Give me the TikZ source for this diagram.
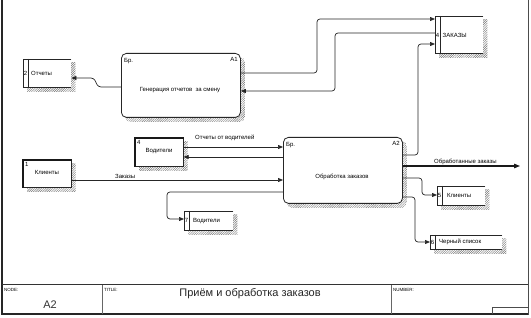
\documentclass[tikz,border=0pt]{standalone}
\usepackage{fontspec}
\setmainfont{Liberation Sans}
\usetikzlibrary{arrows.meta,patterns.meta,calc,backgrounds}
\begin{document}
\begin{tikzpicture}[x=1pt,y=-1pt,
  ln/.style={line width=0.7pt, draw=black!85},
  arr/.style={ln, rounded corners=3pt, -{Triangle[length=5pt,width=4pt]}},
  thickarr/.style={line width=1.2pt, draw=black!90, -{Triangle[length=6pt,width=4.5pt]}},
  proc/.style={draw=black!85, line width=0.8pt, rounded corners=5pt, fill=white, inner sep=0pt, anchor=north west},
  storebox/.style={fill=white, inner sep=0pt, anchor=north west},
  entbox/.style={draw=black!85, line width=0.6pt, fill=white, inner sep=0pt, anchor=north west},
  tx/.style={font=\fontsize{6}{7}\selectfont, inner sep=0pt},
  ltx/.style={tx, anchor=west},
  hd/.style={font=\fontsize{4.5}{5}\selectfont, inner sep=0pt, anchor=north west},
  shd/.style={pattern={Lines[angle=45,distance=1.6pt,line width=0.45pt]}, pattern color=black!55},
]
\useasboundingbox (0,0) rectangle (531,318);

% ---------- boxes ----------
\node[proc, minimum width=119pt, minimum height=64pt] (gen) at (121,53) {};
\node[proc, minimum width=119pt, minimum height=66pt] (obr) at (283,137) {};

\node[storebox, minimum width=48pt, minimum height=28pt] (ots) at (23,59) {};
\node[storebox, minimum width=48pt, minimum height=37pt] (zak) at (435,16) {};
\node[storebox, minimum width=49pt, minimum height=19pt] (vod7) at (184,211) {};
\node[storebox, minimum width=48pt, minimum height=19pt] (kli5) at (437,186) {};
\node[storebox, minimum width=72pt, minimum height=14pt] (chs) at (430,235) {};

\node[entbox, minimum width=48pt, minimum height=28pt] (vod4) at (135,138) {};
\node[entbox, minimum width=48pt, minimum height=27pt] (kli1) at (23,160) {};

% background and shadows
\begin{scope}[on background layer]
  \fill[white] (0,0) rectangle (531,318);
  \foreach \n in {gen,obr}
    \fill[shd, rounded corners=5pt] ($(\n.south west)+(4pt,-4pt)$) rectangle ($(\n.north east)+(4pt,-4pt)$);
  \foreach \n in {ots,zak,vod7,kli5,chs,vod4,kli1}
    \fill[shd] ($(\n.south west)+(4pt,-4pt)$) rectangle ($(\n.north east)+(4pt,-4pt)$);
\end{scope}

% store outlines
\foreach \n in {ots,zak,vod7,kli5,chs} {
  \draw[ln] (\n.north east) -- (\n.north west) -- (\n.south west) -- (\n.south east);
  \draw[ln] ($(\n.north west)+(5pt,0)$) -- ($(\n.south west)+(5pt,0)$);
}
% entity thick edges
\foreach \n in {vod4,kli1}
  \draw[line width=2pt, black!90] (\n.south west) -- (\n.north west) -- (\n.north east);

% ---------- texts in boxes ----------
\node[tx, anchor=north west] (genbr) at ($(gen.north west)+(3pt,-5pt)$) {Бр.};
\node[tx, anchor=north east] (gena) at ($(gen.north east)+(-3pt,-4pt)$) {A1};
\node[tx] (gent) at (180,90) {Генерация отчетов\ \ за смену};

\node[tx, anchor=north west] (obrbr) at ($(obr.north west)+(3pt,-5pt)$) {Бр.};
\node[tx, anchor=north east] (obra) at ($(obr.north east)+(-3pt,-4pt)$) {A2};
\node[tx] (obrt) at (342,177) {Обработка заказов};

\node[tx] (otsn) at ($(ots.west)+(2.5pt,0)$) {2};
\node[ltx] (otst) at ($(ots.west)+(8pt,0)$) {Отчеты};
\node[tx] (zakn) at ($(zak.west)+(2.5pt,-1pt)$) {4};
\node[ltx] (zakt) at ($(zak.west)+(7.5pt,-1pt)$) {ЗАКАЗЫ};
\node[tx] (vod7n) at ($(vod7.west)+(2.5pt,0)$) {7};
\node[ltx] (vod7t) at ($(vod7.west)+(9pt,0)$) {Водители};
\node[tx] (kli5n) at ($(kli5.west)+(2.5pt,0)$) {5};
\node[ltx] (kli5t) at ($(kli5.west)+(10pt,0)$) {Клиенты};
\node[tx] (chsn) at ($(chs.west)+(2.5pt,0)$) {6};
\node[ltx] (chst) at ($(chs.west)+(9pt,0)$) {Черный список};

\node[tx, anchor=north west] (vod4n) at ($(vod4.north west)+(2pt,-2pt)$) {4};
\node[tx] (vod4t) at (159,151) {Водители};
\node[tx, anchor=north west] (kli1n) at ($(kli1.north west)+(2pt,-2pt)$) {1};
\node[tx] (kli1t) at (47,172) {Клиенты};

% ---------- levels ----------
\coordinate (y19) at (0,19);
\coordinate (y33) at (0,33);
\coordinate (y44) at (0,44);
\coordinate (y73) at (0,73);
\coordinate (y78) at (0,78);
\coordinate (y87) at (0,87);
\coordinate (y91) at (0,91);
\coordinate (y147) at (0,147);
\coordinate (y155) at (0,155);
\coordinate (y157) at (0,157);
\coordinate (y166) at (0,166);
\coordinate (y178) at (0,178);
\coordinate (y180) at (0,180);
\coordinate (y192) at (0,192);
\coordinate (y195) at (0,195);
\coordinate (y197) at (0,197);
\coordinate (y219) at (0,219);
\coordinate (y242) at (0,242);
\coordinate (outend) at (520,166);

% ---------- connectors ----------
\draw[arr] (gen.west |- y87) -- (98,87) -- (94,78) -- (ots.east |- y78);
\draw[arr] (gen.east |- y73) -| (317,19) -- (zak.west |- y19);
\draw[arr] (zak.west |- y33) -| (335,91) -- (gen.east |- y91);
\draw[arr] (obr.east |- y155) -| (418,44) -- (zak.west |- y44);
\draw[arr] (vod4.east |- y147) -- (obr.west |- y147);
\draw[arr] (obr.west |- y157) -- (vod4.east |- y157);
\draw[arr] (kli1.east |- y180) -- (obr.west |- y180);
\draw[arr] (obr.west |- y192) -| (167,219) -- (vod7.west |- y219);
\draw[thickarr] (obr.east |- y166) -- (outend);
\draw[arr] (obr.east |- y178) -| (422,195) -- (kli5.west |- y195);
\draw[arr] (obr.east |- y197) -| (415,242) -- (chs.west |- y242);

% connector labels
\node[ltx] (lbl1) at (195,138) {Отчеты от водителей};
\node[ltx] (lbl2) at (115,176.5) {Заказы};
\node[ltx] (lbl3) at (434,162) {Обработанные заказы};

% ---------- frame and title block ----------
\draw[line width=1.5pt, black!85] (2,0) -- (2,315);
\draw[line width=0.8pt, black!70] (528,0) -- (528,315);
\draw[line width=1pt, black!80] (2,285) -- (528,285);
\draw[line width=1.2pt, black!85] (1.3,314) -- (528.4,314);
\draw[line width=0.7pt, black!60] (102,285) -- (102,314);
\draw[line width=0.7pt, black!60] (391,285) -- (391,314);
\draw[line width=0.7pt, black!70] (492,314) -- (492,307) -- (528,307);

\node[hd] (nodeh) at (4,288) {NODE:};
\node[hd] (titleh) at (104,288) {TITLE:};
\node[hd] (numh) at (393,288) {NUMBER:};
\node[font=\fontsize{11}{12}\selectfont, inner sep=0pt, text=black!80] (nodev) at (50,305) {A2};
\node[font=\fontsize{11}{12}\selectfont, inner sep=0pt, text=black!85] (titlev) at (250,294) {Приём и обработка заказов};
\end{tikzpicture}
\end{document}
